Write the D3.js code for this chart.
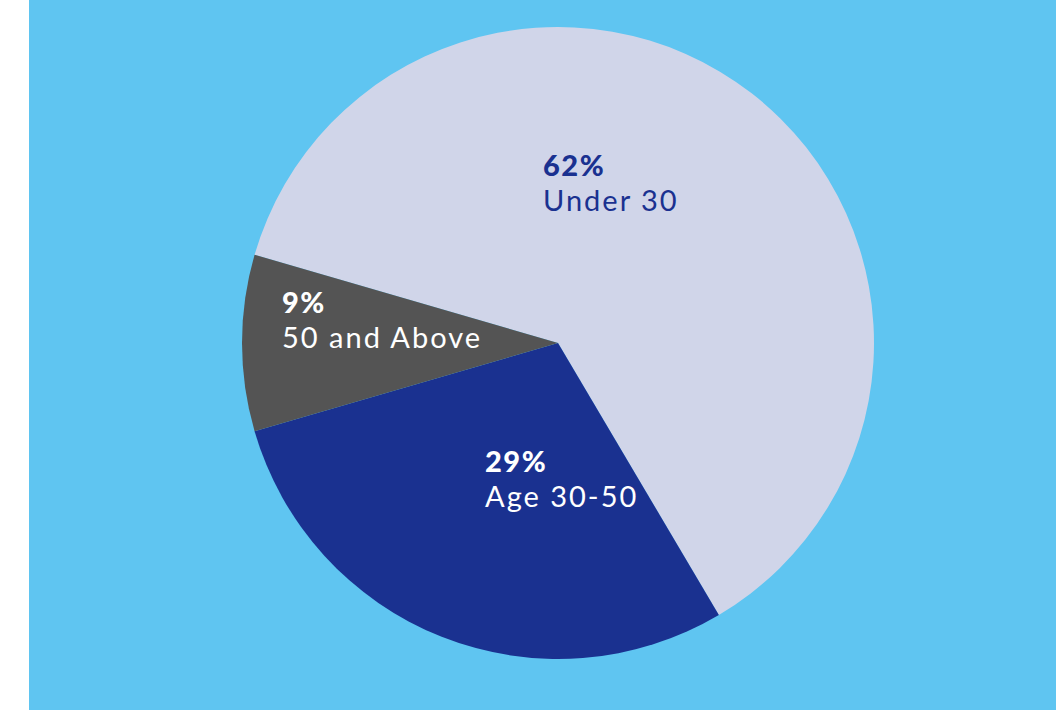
<!DOCTYPE html>
<html>
<head>
<meta charset="utf-8">
<script src="https://cdn.jsdelivr.net/npm/d3@7"></script>
<style>
  html, body { margin: 0; padding: 0; background: #ffffff; }
  svg { display: block; }
</style>
</head>
<body>
<script>
// Age groups and their shares (percent)
const categories = ["Under 30", "Age 30-50", "50 and Above"];
const shares = [62, 29, 9];

// Styling
const sliceColors = ["#D0D5E9", "#1A3190", "#545454"];
const labelColors = ["#1A3190", "#FFFFFF", "#FFFFFF"];

// Layout
const width = 1056, height = 710;
const panelLeft = 29;
const cx = 558, cy = 343, radius = 316;
const startDeg = -73.8;                 // first slice starts here, clockwise
// first-line baseline of each label, relative to the pie centre
const labelAnchors = [[-15, -167], [-73, 129], [-276, -30]];
const lineGap = 35;

const svg = d3.select("body").append("svg")
  .attr("width", width)
  .attr("height", height);

svg.append("rect")
  .attr("x", panelLeft).attr("y", 0)
  .attr("width", width - panelLeft).attr("height", height)
  .attr("fill", "#5FC5F1");

const color = d3.scaleOrdinal().domain(categories).range(sliceColors);
const textColor = d3.scaleOrdinal().domain(categories).range(labelColors);

const data = categories.map((c, i) => ({ category: c, value: shares[i] }));

const start = startDeg * Math.PI / 180;
const pie = d3.pie()
  .sort(null)
  .value(d => d.value)
  .startAngle(start)
  .endAngle(start + 2 * Math.PI);

const arc = d3.arc().innerRadius(0).outerRadius(radius);

const g = svg.append("g").attr("transform", `translate(${cx},${cy})`);

g.selectAll("path.slice")
  .data(pie(data))
  .join("path")
  .attr("class", "slice")
  .attr("d", arc)
  .attr("fill", d => color(d.data.category));

const fmt = d3.format(".0%");

const labels = g.selectAll("g.label")
  .data(data)
  .join("g")
  .attr("class", "label")
  .attr("transform", (d, i) => `translate(${labelAnchors[i][0]},${labelAnchors[i][1]})`)
  .attr("fill", d => textColor(d.category))
  .style("font-family", "Lato, 'Open Sans', sans-serif");

labels.append("text")
  .attr("x", 0).attr("y", 0)
  .style("font-size", "29px")
  .style("font-weight", 900)
  .style("letter-spacing", "1.5px")
  .text(d => fmt(d.value / 100));

labels.append("text")
  .attr("x", 0).attr("y", lineGap)
  .style("font-size", "29px")
  .style("font-weight", 400)
  .style("letter-spacing", "2px")
  .text(d => d.category);
</script>
</body>
</html>
